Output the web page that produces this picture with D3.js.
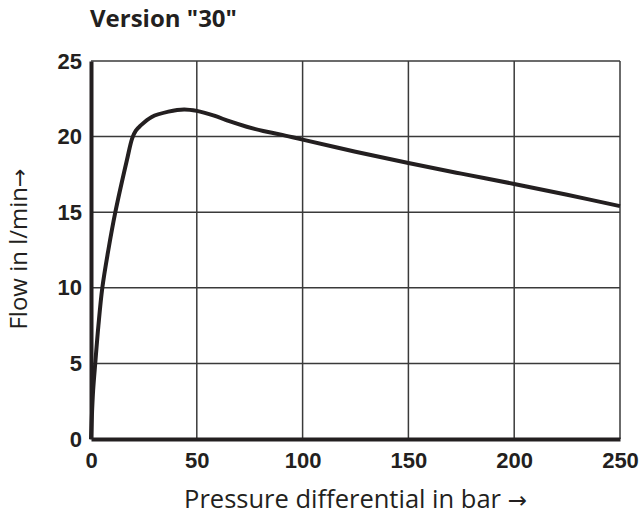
<!DOCTYPE html>
<html>
<head>
<meta charset="utf-8">
<script src="https://cdn.jsdelivr.net/npm/d3@7"></script>
<style>
  body { margin: 0; background: #fff; }
  svg { display: block; }
</style>
</head>
<body>
<div id="chart"></div>
<script>
// data (pressure differential in bar, flow in l/min)
var pressure = [0, 0.5, 1, 2, 3.5, 5.35, 8.2, 11.5, 16.9, 19.5, 21.2, 23.2, 28.7, 36.6, 44, 50, 57.8, 65.7, 73.6, 81.4, 89.3, 100, 125, 150, 175, 200, 225, 250];
var flow = [0, 1.8, 3.2, 5, 7.5, 10, 12.5, 15, 18.4, 19.9, 20.4, 20.7, 21.3, 21.65, 21.8, 21.7, 21.4, 21.0, 20.65, 20.37, 20.15, 19.8, 19.0, 18.25, 17.55, 16.87, 16.15, 15.4];
var xTicks = [0, 50, 100, 150, 200, 250];
var yTicks = [0, 5, 10, 15, 20, 25];
var title = 'Version "30"';
var xTitle = 'Pressure differential in bar ';
var yTitle = 'Flow in l/min';
var arrow = '\u2192';

var attrs = {
  svgWidth: 641,
  svgHeight: 515,
  marginLeft: 91,
  marginTop: 61,
  marginRight: 21,
  marginBottom: 76,
  ink: '#231f20',
  grid: '#3a3a3a',
  tickFont: '"Liberation Sans", Arial, sans-serif',
  labelFont: '"Open Sans", "Noto Sans", sans-serif',
  arrowFont: '"DejaVu Sans", sans-serif'
};

var w = attrs.svgWidth - attrs.marginLeft - attrs.marginRight;
var h = attrs.svgHeight - attrs.marginTop - attrs.marginBottom;

var svg = d3.select('#chart').append('svg')
  .attr('width', attrs.svgWidth)
  .attr('height', attrs.svgHeight);

var chart = svg.append('g')
  .attr('transform', 'translate(' + attrs.marginLeft + ',' + attrs.marginTop + ')');

var x = d3.scaleLinear().domain([0, 250]).range([0, w]);
var y = d3.scaleLinear().domain([0, 25]).range([h, 0]);

// grid
chart.append('g').selectAll('line').data(xTicks.slice(1)).enter().append('line')
  .attr('x1', d => x(d)).attr('x2', d => x(d))
  .attr('y1', 0).attr('y2', h)
  .attr('stroke', attrs.grid).attr('stroke-width', 1.5);

chart.append('g').selectAll('line').data(yTicks.slice(1)).enter().append('line')
  .attr('x1', 0).attr('x2', w)
  .attr('y1', d => y(d)).attr('y2', d => y(d))
  .attr('stroke', attrs.grid).attr('stroke-width', 1.5);

// axes (thick left and bottom)
var xAxis = chart.append('g')
  .attr('transform', 'translate(0,' + h + ')')
  .call(d3.axisBottom(x).tickValues(xTicks).tickSize(0).tickPadding(13));
var yAxis = chart.append('g')
  .call(d3.axisLeft(y).tickValues(yTicks).tickSize(0).tickPadding(9));

[xAxis, yAxis].forEach(function (a) {
  a.select('.domain').attr('stroke', attrs.ink).attr('stroke-width', 4);
  a.selectAll('text')
    .attr('font-family', attrs.tickFont)
    .attr('font-weight', 'bold')
    .attr('font-size', 22)
    .attr('fill', attrs.ink);
});

// curve
var pts = pressure.map((p, i) => [p, flow[i]]);
var line = d3.line()
  .x(d => x(d[0]))
  .y(d => y(d[1]))
  .curve(d3.curveCatmullRom.alpha(0.5));

chart.append('path')
  .datum(pts)
  .attr('d', line)
  .attr('fill', 'none')
  .attr('stroke', attrs.ink)
  .attr('stroke-width', 4)
  .attr('stroke-linejoin', 'round');

// titles
svg.append('text')
  .attr('x', 90).attr('y', 27)
  .attr('font-family', attrs.labelFont)
  .attr('font-weight', 'bold')
  .attr('font-size', 24)
  .attr('fill', attrs.ink)
  .text(title);

var xt = svg.append('text')
  .attr('x', attrs.marginLeft + w / 2).attr('y', 508)
  .attr('text-anchor', 'middle')
  .attr('font-family', attrs.labelFont)
  .attr('font-size', 25.5)
  .attr('fill', attrs.ink);
xt.append('tspan').text(xTitle);
xt.append('tspan').attr('font-family', attrs.arrowFont).attr('font-size', 23).text(arrow);

var yt = svg.append('text')
  .attr('transform', 'translate(27,249) rotate(-90)')
  .attr('text-anchor', 'middle')
  .attr('font-family', attrs.labelFont)
  .attr('font-size', 24)
  .attr('fill', attrs.ink);
yt.append('tspan').text(yTitle);
yt.append('tspan').attr('font-family', attrs.arrowFont).attr('font-size', 22).text(arrow);
</script>
</body>
</html>
